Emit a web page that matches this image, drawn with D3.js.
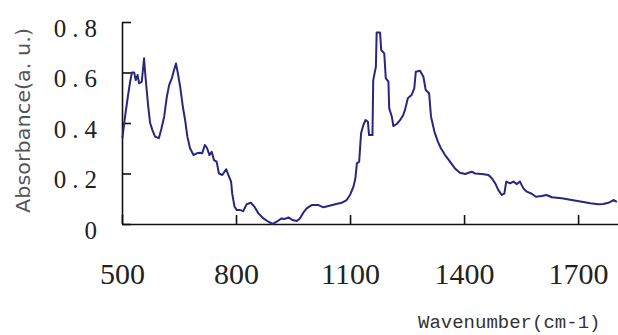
<!DOCTYPE html>
<html>
<head>
<meta charset="utf-8">
<script src="https://cdn.jsdelivr.net/npm/d3@7"></script>
<style>
  html, body { margin: 0; padding: 0; background: #fff; }
</style>
</head>
<body>
<div id="chart"></div>
<script>
// spectrum
const wavenumber = [501,508,515,521,526,532,536,541,545,552,
    555,558,561,565,569,574,580,587,597,604,
    611,618,624,631,637,642,647,653,660,666,
    672,679,688,697,705,711,718,724,730,736,
    742,749,755,764,774,780,787,790,796,802,
    811,819,828,839,848,859,872,885,896,907,
    920,929,938,948,960,968,977,986,999,1017,
    1030,1043,1061,1078,1091,1100,1109,1114,1118,1124,
    1129,1135,1141,1147,1150,1159,1161,1168,1170,1179,
    1182,1190,1194,1201,1203,1210,1214,1223,1232,1240,
    1245,1252,1262,1269,1273,1284,1293,1299,1308,1313,
    1322,1331,1339,1350,1363,1376,1389,1403,1420,1429,
    1447,1464,1473,1482,1490,1499,1506,1511,1521,1530,
    1539,1547,1556,1565,1578,1589,1604,1617,1631,1657,
    1683,1710,1732,1753,1766,1780,1793,1802];

const absorbance = [0.34,0.425,0.50,0.56,0.60,0.60,0.57,0.59,0.557,0.564,
    0.61,0.656,0.597,0.53,0.465,0.40,0.372,0.346,0.34,0.379,
    0.425,0.504,0.55,0.577,0.61,0.636,0.597,0.544,0.465,0.412,
    0.346,0.30,0.273,0.28,0.282,0.28,0.313,0.30,0.273,0.286,
    0.253,0.247,0.20,0.194,0.217,0.194,0.168,0.12,0.069,0.055,
    0.055,0.051,0.078,0.084,0.069,0.042,0.022,0.009,0.0,0.009,
    0.022,0.02,0.026,0.016,0.012,0.022,0.045,0.062,0.075,0.075,
    0.066,0.071,0.078,0.084,0.095,0.115,0.148,0.18,0.24,0.247,
    0.359,0.392,0.412,0.405,0.352,0.352,0.57,0.623,0.758,0.758,
    0.689,0.676,0.577,0.564,0.458,0.425,0.388,0.396,0.412,0.432,
    0.454,0.498,0.511,0.537,0.603,0.607,0.583,0.531,0.518,0.425,
    0.366,0.326,0.30,0.273,0.247,0.22,0.203,0.198,0.207,0.20,
    0.198,0.194,0.181,0.161,0.135,0.115,0.12,0.168,0.161,0.168,
    0.158,0.168,0.141,0.128,0.12,0.108,0.111,0.115,0.106,0.102,
    0.095,0.088,0.082,0.078,0.079,0.084,0.095,0.088];

const xTicks = [500, 800, 1100, 1400, 1700];
const yTicks = [0, 0.2, 0.4, 0.6, 0.8];

const width = 618, height = 335;

const x = d3.scaleLinear().domain([500, 1805]).range([122, 618]);
const y = d3.scaleLinear().domain([0, 0.8]).range([224, 22]);

const svg = d3.select("#chart")
    .append("svg")
    .attr("width", width)
    .attr("height", height);

// x axis, ticks pointing up into the plot
const gx = svg.append("g")
    .attr("transform", "translate(0," + y(0) + ")")
    .call(d3.axisBottom(x).tickValues(xTicks).tickSizeInner(-9).tickSizeOuter(0)
        .tickPadding(39).tickFormat(d3.format("d")));

// y axis, ticks pointing right
const gy = svg.append("g")
    .attr("transform", "translate(" + x(500) + ",0)")
    .call(d3.axisLeft(y).tickValues(yTicks).tickSizeInner(-9).tickSizeOuter(0)
        .tickPadding(19).tickFormat(d => d === 0 ? "0" : d3.format(".1f")(d)));

[gx, gy].forEach(g => {
    g.select(".domain").attr("stroke", "#111").attr("stroke-width", 1.6);
    g.selectAll(".tick line").attr("stroke", "#111").attr("stroke-width", 1.6);
});

gx.selectAll(".tick text")
    .attr("fill", "#222")
    .style("font-family", "'Liberation Serif', serif")
    .style("font-size", "30px");

gy.selectAll(".tick text")
    .attr("fill", "#222")
    .attr("dy", "0.56em")
    .style("font-family", "'Liberation Serif', serif")
    .style("font-size", "25px")
    .style("letter-spacing", "6px");

// spectrum
const points = wavenumber.map((w, i) => [w, absorbance[i]]);
svg.append("path")
    .datum(points)
    .attr("fill", "none")
    .attr("stroke", "#27277f")
    .attr("stroke-width", 2)
    .attr("stroke-linejoin", "round")
    .attr("d", d3.line().x(d => x(d[0])).y(d => y(d[1])));

// axis titles
svg.append("text")
    .attr("transform", "translate(30,120.5) rotate(-90)")
    .attr("text-anchor", "middle")
    .attr("fill", "#555")
    .style("font-family", "'DejaVu Sans', sans-serif")
    .style("font-size", "20px")
    .attr("textLength", 185)
    .attr("lengthAdjust", "spacingAndGlyphs")
    .text("Absorbance(a. u.)");

svg.append("text")
    .attr("x", 418)
    .attr("y", 328)
    .attr("fill", "#333")
    .style("font-family", "'Liberation Mono', monospace")
    .style("font-size", "19px")
    .text("Wavenumber(cm-1)");
</script>
</body>
</html>
